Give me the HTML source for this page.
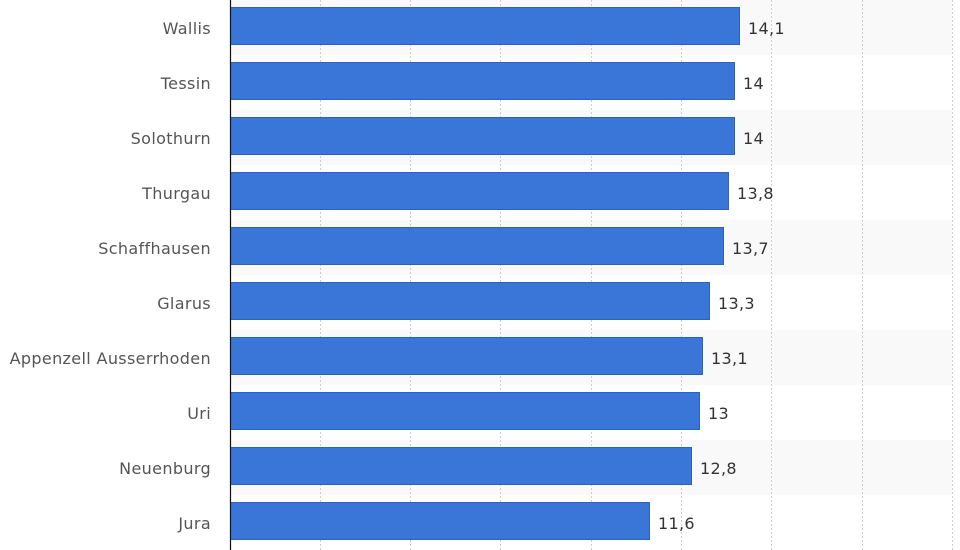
<!DOCTYPE html>
<html><head><meta charset="utf-8"><style>
html,body{margin:0;padding:0;background:#fff;width:960px;height:550px;overflow:hidden}
</style></head><body>
<svg width="960" height="550" xmlns="http://www.w3.org/2000/svg" font-family="DejaVu Sans, sans-serif">
<g fill="#f9f9f9">
<rect x="230" y="0" width="722" height="55"/>
<rect x="230" y="110" width="722" height="55"/>
<rect x="230" y="220" width="722" height="55"/>
<rect x="230" y="330" width="722" height="55"/>
<rect x="230" y="440" width="722" height="55"/>
</g>
<g stroke="#ccc" stroke-width="1" stroke-dasharray="2,2">
<line x1="320.5" y1="0" x2="320.5" y2="550"/>
<line x1="410.5" y1="0" x2="410.5" y2="550"/>
<line x1="500.5" y1="0" x2="500.5" y2="550"/>
<line x1="591.5" y1="0" x2="591.5" y2="550"/>
<line x1="681.5" y1="0" x2="681.5" y2="550"/>
<line x1="771.5" y1="0" x2="771.5" y2="550"/>
<line x1="862.5" y1="0" x2="862.5" y2="550"/>
<line x1="952.5" y1="0" x2="952.5" y2="550"/>
</g>
<g fill="#3a76d8" stroke="#2a62bf" stroke-width="1">
<rect x="230.5" y="7.5" width="509" height="37"/>
<rect x="230.5" y="62.5" width="504" height="37"/>
<rect x="230.5" y="117.5" width="504" height="37"/>
<rect x="230.5" y="172.5" width="498" height="37"/>
<rect x="230.5" y="227.5" width="493" height="37"/>
<rect x="230.5" y="282.5" width="479" height="37"/>
<rect x="230.5" y="337.5" width="472" height="37"/>
<rect x="230.5" y="392.5" width="469" height="37"/>
<rect x="230.5" y="447.5" width="461" height="37"/>
<rect x="230.5" y="502.5" width="419" height="37"/>
</g>
<line x1="230.5" y1="0" x2="230.5" y2="550" stroke="#111" stroke-width="1.2"/>
<g fill="#555" font-size="16" letter-spacing="0.35" text-anchor="end">
<text x="211" y="34">Wallis</text>
<text x="211" y="89">Tessin</text>
<text x="211" y="144">Solothurn</text>
<text x="211" y="199">Thurgau</text>
<text x="211" y="254">Schaffhausen</text>
<text x="211" y="309">Glarus</text>
<text x="211" y="364">Appenzell Ausserrhoden</text>
<text x="211" y="419">Uri</text>
<text x="211" y="474">Neuenburg</text>
<text x="211" y="529">Jura</text>
</g>
<g fill="#333" font-size="16" letter-spacing="0.3">
<text x="748" y="34">14,1</text>
<text x="743" y="89">14</text>
<text x="743" y="144">14</text>
<text x="737" y="199">13,8</text>
<text x="732" y="254">13,7</text>
<text x="718" y="309">13,3</text>
<text x="711" y="364">13,1</text>
<text x="708" y="419">13</text>
<text x="700" y="474">12,8</text>
<text x="658" y="529">11,6</text>
</g>
</svg>
</body></html>
